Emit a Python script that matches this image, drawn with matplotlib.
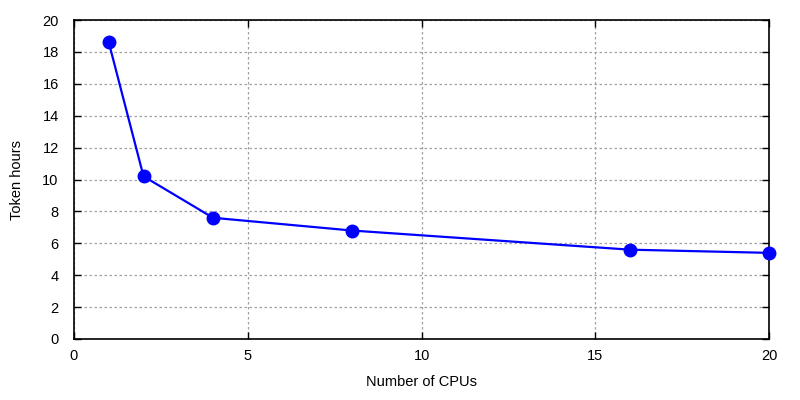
import matplotlib
matplotlib.use('Agg')
import matplotlib.pyplot as plt

# values
cpus = [1, 2, 4, 8, 16, 20]
token_hours = [18.6, 10.2, 7.6, 6.8, 5.6, 5.4]
x_ticks = [0, 5, 10, 15, 20]
y_ticks = [0, 2, 4, 6, 8, 10, 12, 14, 16, 18, 20]

plt.rcParams['font.family'] = ['Liberation Sans', 'DejaVu Sans']
plt.rcParams['font.size'] = 10.5

fig = plt.figure(figsize=(8, 4), dpi=100)
ax = fig.add_axes([0.0925, 0.1525, 0.869, 0.7975])

ax.plot(cpus, token_hours, color='#0000ff', linewidth=1.6,
        marker='o', markersize=9, clip_on=False, zorder=3)

ax.set_xlim(0, 20)
ax.set_ylim(0, 20)
ax.set_xticks(x_ticks)
ax.set_yticks(y_ticks)
ax.tick_params(axis='both', direction='in', top=True, right=True, length=5, width=1)
ax.tick_params(axis='y', pad=11)
ax.tick_params(axis='x', pad=7)

ax.grid(True, color='#a0a0a0', linestyle=(0, (2, 2)), linewidth=0.9)
for s in ax.spines.values():
    s.set_linewidth(1.2)

ax.set_xlabel('Number of CPUs', labelpad=9)
ax.set_ylabel('Token hours', labelpad=13)

fig.savefig('out.png', dpi=100)
plt.close()
